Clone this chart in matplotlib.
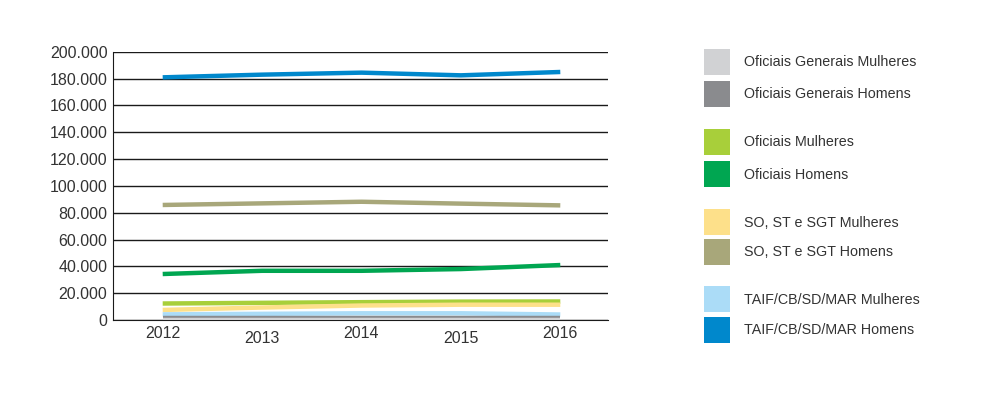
import matplotlib
matplotlib.use("Agg")
import matplotlib.pyplot as plt
from matplotlib.patches import Rectangle

plt.rcParams["font.family"] = ["Liberation Sans", "DejaVu Sans"]

# DADOS
anos = [2012, 2013, 2014, 2015, 2016]

series = [
    "Oficiais Generais Mulheres",
    "Oficiais Generais Homens",
    "Oficiais Mulheres",
    "Oficiais Homens",
    "SO, ST e SGT Mulheres",
    "SO, ST e SGT Homens",
    "TAIF/CB/SD/MAR Mulheres",
    "TAIF/CB/SD/MAR Homens",
]

gen_mulheres = [100, 100, 100, 100, 100]
gen_homens = [1300, 1300, 1300, 1300, 1300]
of_mulheres = [12300, 12800, 13300, 13700, 13800]
of_homens = [34300, 36700, 36700, 38000, 41000]
so_mulheres = [7500, 9300, 10800, 11400, 11400]
so_homens = [85800, 87000, 88200, 86800, 85500]
taif_mulheres = [4200, 4600, 5000, 5000, 4100]
taif_homens = [181000, 183000, 184500, 182500, 185000]

valores = [gen_mulheres, gen_homens, of_mulheres, of_homens,
           so_mulheres, so_homens, taif_mulheres, taif_homens]

cores = ["#d1d2d4", "#8a8b8e", "#a8cf3a", "#00a651",
         "#fde08a", "#a8a77a", "#abdcf7", "#0088cc"]

yticks = list(range(0, 200001, 20000))
ylabels = ["0" if v == 0 else f"{v // 1000}.000" for v in yticks]

# GRÁFICO
fig = plt.figure(figsize=(10, 3.99), dpi=100)
ax = fig.add_axes([0.113, 0.198, 0.495, 0.672])

# ordem de desenho: grandes primeiro, pequenas por cima
ordem = [7, 5, 3, 2, 4, 6, 1, 0]
for i in ordem:
    ax.plot(anos, valores[i], color=cores[i], lw=3.2, solid_capstyle="butt", zorder=3)

ax.set_xlim(2011.5, 2016.48)
ax.set_ylim(0, 200000)
ax.set_yticks(yticks)
ax.set_yticklabels(ylabels)
ax.set_xticks(anos)
ax.set_xticklabels([str(a) for a in anos])
ax.grid(axis="y", color="#1a1a1a", lw=1.0, zorder=1)
ax.set_axisbelow(True)

for s in ["top", "right"]:
    ax.spines[s].set_visible(False)
ax.spines["left"].set_color("#1a1a1a")
ax.spines["bottom"].set_color("#1a1a1a")

ax.tick_params(axis="both", length=0, labelsize=11.5, labelcolor="#333333")
ax.tick_params(axis="y", pad=4)
for k, t in enumerate(ax.xaxis.get_major_ticks()):
    t.set_pad(8 if k % 2 else 4)

# LEGENDA
ys = [62, 94, 142, 174, 222, 252, 299, 330]
H = 399.0
for i, nome in enumerate(series):
    yc = ys[i]
    fig.add_artist(Rectangle((0.704, 1 - (yc + 13) / H), 0.026, 26 / H,
                             transform=fig.transFigure, color=cores[i], lw=0))
    fig.text(0.744, 1 - (yc + 0.5) / H, nome, va="center", ha="left",
             fontsize=10.3, color="#333333")

fig.savefig("out.png", dpi=100)
plt.close()
